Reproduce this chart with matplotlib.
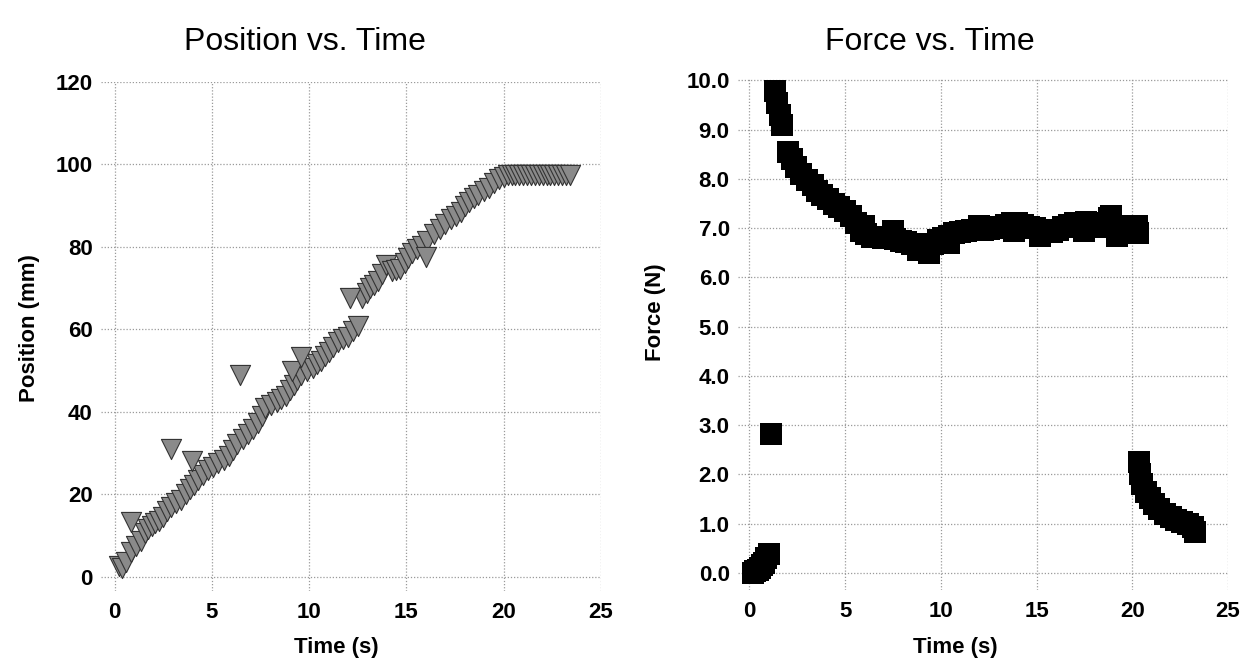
import matplotlib
matplotlib.use("Agg")
import matplotlib.pyplot as plt
import numpy as np

plt.rcParams['font.family'] = ['Liberation Sans', 'DejaVu Sans']

# position vs time (s, mm)
pos_t = [0.2, 0.4, 0.6, 0.85, 1.1, 1.35, 1.55, 1.7, 1.9, 2.1, 2.3, 2.5, 2.7, 2.9,
         3.15, 3.4, 3.65, 3.9, 4.1, 4.3, 4.55, 4.8, 5.05, 5.3, 5.6, 5.9, 6.1, 6.3,
         6.6, 6.85, 7.1, 7.35, 7.55, 7.75, 8.05, 8.35, 8.55, 8.8, 9.0, 9.2, 9.4, 9.6,
         9.9, 10.2, 10.4, 10.6, 10.8, 11.0, 11.25, 11.5, 11.75, 12.0, 12.25, 12.5,
         12.7, 12.95, 13.15, 13.35, 13.55, 13.75, 13.95, 14.25, 14.45, 14.65, 14.9,
         15.1, 15.3, 15.55, 15.8, 16.05, 16.4, 16.7, 17.0, 17.3, 17.55, 17.8, 18.0,
         18.2, 18.45, 18.7, 19.0, 19.25, 19.5, 19.75, 20.0, 20.2,
         20.4, 20.6, 20.8, 21.0, 21.2, 21.4, 21.6, 21.8, 22.0, 22.2, 22.4, 22.6,
         22.8, 23.0, 23.2, 23.4,
         0.85, 2.9, 4.0, 6.45, 9.1, 9.6, 12.1, 16.0]
pos_mm = [2.5, 2.0, 3.5, 6.0, 7.5, 8.7, 10.5, 11.5, 12.2, 12.9, 13.6, 14.5, 15.8, 17.0,
          17.8, 18.7, 20.0, 21.3, 22.3, 23.4, 24.6, 25.9, 26.7, 27.6, 28.4, 29.2, 30.6, 32.2,
          33.4, 34.7, 35.9, 37.2, 39.0, 41.0, 41.6, 42.3, 43.1, 43.9, 45.2, 46.5, 47.7, 49.0,
          49.8, 50.7, 51.5, 52.4, 53.4, 54.5, 55.7, 57.0, 57.6, 58.2, 59.5, 60.8,
          67.5, 68.8, 70.0, 70.8, 71.7, 73.5, 75.5, 74.2, 74.4, 74.6, 76.0,
          77.2, 78.4, 79.5, 80.2, 81.5, 83.0, 84.3, 85.5, 86.8, 87.6, 88.5, 89.8,
          91.0, 91.8, 92.7, 93.5, 94.4, 95.4, 96.4, 97.0, 97.5,
          97.5, 97.5, 97.5, 97.5, 97.5, 97.5, 97.5, 97.5, 97.5, 97.5, 97.5, 97.5,
          97.5, 97.5, 97.5, 97.5,
          13.3, 30.9, 28.0, 49.0, 49.8, 53.2, 67.5, 77.6]

# force vs time (s, N)
force_t = [0.2, 0.3, 0.45, 0.55, 0.65, 0.75, 0.85, 1.0,
           1.15,
           1.35, 1.45, 1.6, 1.72,
           2.0, 2.2, 2.45, 2.7, 3.0, 3.3, 3.55, 3.8, 4.1, 4.4, 4.7, 5.0, 5.3, 5.55,
           5.8, 6.1, 6.4, 6.7, 7.0, 7.3, 7.6, 7.9, 8.2, 8.5, 8.8, 9.1, 9.35, 9.6,
           9.85, 10.1, 10.4, 10.7, 11.0, 11.3, 11.6, 11.9, 12.2, 12.5, 12.8, 13.1,
           13.4, 13.7, 14.0, 14.3, 14.6, 14.9, 15.2, 15.5, 15.8, 16.1, 16.4, 16.7,
           17.0, 17.3, 17.6, 17.9, 18.2, 18.5, 18.8, 19.1, 19.4, 19.7, 20.0, 20.3,
           6.0, 7.5, 8.8, 9.4, 10.4, 12.0, 13.8, 15.2, 17.5, 18.9, 19.2, 20.25,
           20.35, 20.4, 20.5, 20.7, 20.9, 21.15, 21.4, 21.7, 22.0, 22.3, 22.6, 22.9,
           23.15, 23.3]
force_n = [0.0, 0.03, 0.06, 0.1, 0.15, 0.2, 0.3, 0.38,
           2.82,
           9.78, 9.55, 9.3, 9.1,
           8.55, 8.4, 8.25, 8.1, 7.98, 7.88, 7.75, 7.68, 7.6, 7.5, 7.42, 7.35, 7.25, 7.1,
           6.95, 6.88, 6.83, 6.82, 6.8, 6.8, 6.78, 6.74, 6.72, 6.68, 6.65, 6.62, 6.6, 6.68,
           6.75, 6.8, 6.85, 6.9, 6.92, 6.95, 6.97, 6.97, 6.97, 6.98, 7.0, 7.03,
           7.07, 7.1, 7.1, 7.07, 7.03, 7.0, 6.97, 6.95, 6.93, 6.97, 7.02, 7.07,
           7.1, 7.1, 7.12, 7.1, 7.02, 7.05, 7.2, 7.05, 6.97, 7.03, 6.98, 6.9,
           7.05, 6.95, 6.55, 6.5, 6.7, 7.05, 6.95, 6.85, 6.95, 7.25, 6.85, 7.05,
           2.25, 2.0, 1.8, 1.65, 1.52, 1.4, 1.3, 1.2, 1.13, 1.08, 1.03, 1.0,
           0.92, 0.83]

x_ticks = [0, 5, 10, 15, 20, 25]
pos_ticks = [0, 20, 40, 60, 80, 100, 120]
force_ticks = [0, 1, 2, 3, 4, 5, 6, 7, 8, 9, 10]

fig = plt.figure(figsize=(12.41, 6.69), dpi=100)
W, H = 1241, 669

ax1 = fig.add_axes([101 / W, 78 / H, 500 / W, 509 / H])
ax2 = fig.add_axes([738 / W, 79 / H, 490 / W, 512 / H])

tick_font = dict(fontsize=16, fontweight='bold')

for ax in (ax1, ax2):
    for s in ax.spines.values():
        s.set_visible(False)
    ax.set_xticks(x_ticks)
    ax.set_xticklabels([str(v) for v in x_ticks], **tick_font)
    ax.tick_params(axis='x', length=0, pad=8)
    ax.tick_params(axis='y', length=0, pad=6)
    ax.grid(True, linestyle=(0, (1, 1.5)), color='#9a9a9a', linewidth=0.9)
    ax.set_axisbelow(True)

ax1.scatter(pos_t, pos_mm, marker='v', s=14.5 ** 2, facecolor='#8a8a8a',
            edgecolor='#333333', linewidth=0.8, zorder=3)
ax1.set_xlim(-0.7, 25)
ax1.set_ylim(-3.5, 120)
ax1.set_yticks(pos_ticks)
ax1.set_yticklabels([str(v) for v in pos_ticks], **tick_font)

ax2.scatter(force_t, force_n, marker='s', s=15.5 ** 2, facecolor='black',
            edgecolor='black', linewidth=0, zorder=3)
ax2.set_xlim(-0.6, 25)
ax2.set_ylim(-0.35, 10.05)
ax2.set_yticks(force_ticks)
ax2.set_yticklabels(['%.1f' % v for v in force_ticks], **tick_font)

fig.text(305 / W, 1 - 42 / H, 'Position vs. Time', fontsize=23, ha='center', va='center')
fig.text(930 / W, 1 - 42 / H, 'Force vs. Time', fontsize=23, ha='center', va='center')
fig.text(336 / W, 1 - 648 / H, 'Time (s)', fontsize=16, fontweight='bold', ha='center', va='center')
fig.text(955 / W, 1 - 648 / H, 'Time (s)', fontsize=16, fontweight='bold', ha='center', va='center')
fig.text(30 / W, 1 - 328 / H, 'Position (mm)', fontsize=16, fontweight='bold',
         ha='center', va='center', rotation=90)
fig.text(655 / W, 1 - 312 / H, 'Force (N)', fontsize=16, fontweight='bold',
         ha='center', va='center', rotation=90)

fig.savefig('out.png', dpi=100)
